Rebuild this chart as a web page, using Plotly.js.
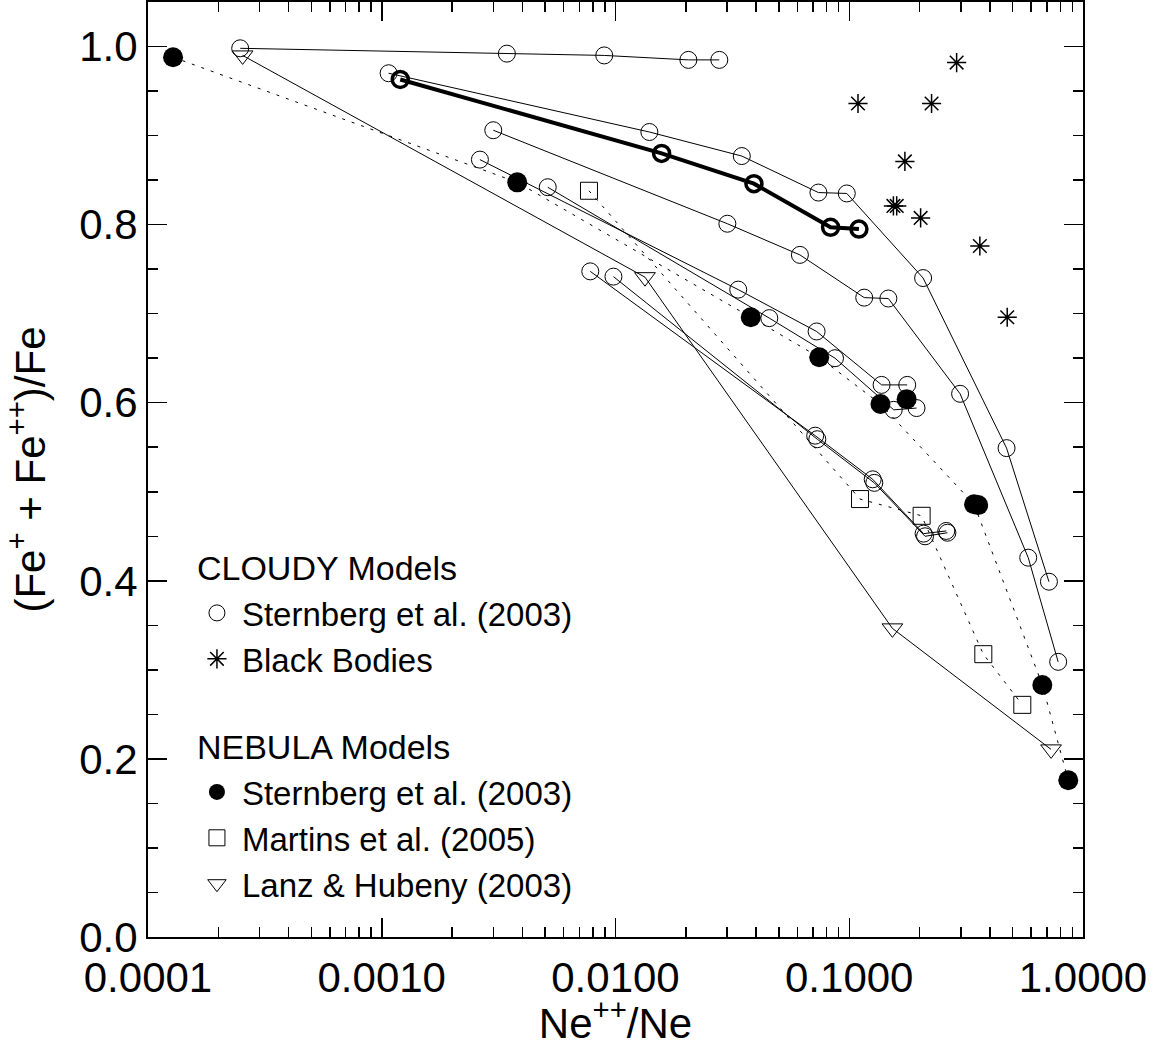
<!DOCTYPE html>
<html>
<head>
<meta charset="utf-8">
<script src="https://cdn.plot.ly/plotly-3.0.1.min.js"></script>
<style>html,body{margin:0;padding:0;background:#fff;}#chart{width:1159px;height:1047px;}</style>
</head>
<body>
<div id="chart"></div>
<script>
// ---------------- DATA ----------------
// CLOUDY models, Sternberg et al. (2003) atmospheres (open circles, solid lines)
const cloudyA_x = [2.48e-4, 3.43e-3, 8.95e-3, 0.0205, 0.0278];
const cloudyA_y = [0.998, 0.992, 0.990, 0.985, 0.985];
const cloudyB_x = [1.07e-3, 0.01396, 0.0347, 0.0738, 0.0976, 0.207, 0.471, 0.715];
const cloudyB_y = [0.970, 0.904, 0.877, 0.836, 0.835, 0.740, 0.549, 0.399];
const cloudyC_x = [3.0e-3, 0.0301, 0.0615, 0.1159, 0.147, 0.298, 0.583, 0.783];
const cloudyC_y = [0.906, 0.801, 0.766, 0.718, 0.717, 0.610, 0.426, 0.309];
const cloudyD_x = [2.63e-3, 0.0335, 0.0725, 0.1375, 0.177];
const cloudyD_y = [0.873, 0.727, 0.680, 0.620, 0.620];
const cloudyE_x = [5.13e-3, 0.0455, 0.0869, 0.155, 0.194];
const cloudyE_y = [0.842, 0.695, 0.650, 0.592, 0.594];
const cloudyF_x = [7.8e-3, 0.0715, 0.126, 0.208, 0.260];
const cloudyF_y = [0.7475, 0.563, 0.514, 0.453, 0.456];
const cloudyG_x = [9.8e-3, 0.073, 0.128, 0.211, 0.263];
const cloudyG_y = [0.7416, 0.559, 0.510, 0.450, 0.454];
// highlighted (thick) CLOUDY sequence
const cloudyThick_x = [1.20e-3, 0.01575, 0.0391, 0.0832, 0.110];
const cloudyThick_y = [0.963, 0.880, 0.846, 0.797, 0.795];
// CLOUDY black bodies (asterisks)
const blackBody_x = [0.288, 0.109, 0.225, 0.173, 0.1545, 0.1596, 0.202, 0.362, 0.474];
const blackBody_y = [0.982, 0.936, 0.936, 0.871, 0.821, 0.821, 0.8075, 0.776, 0.696];
// NEBULA models, Sternberg et al. (2003) (filled circles, dotted line)
const nebSternberg_x = [1.28e-4, 3.80e-3, 0.0379, 0.0744, 0.136, 0.342, 0.670, 0.865];
const nebSternberg_y = [0.988, 0.8475, 0.696, 0.651, 0.5985, 0.486, 0.283, 0.176];
const nebSternbergExtra_x = [0.176, 0.356];
const nebSternbergExtra_y = [0.604, 0.485];
// NEBULA models, Martins et al. (2005) (open squares, dotted line)
const nebMartins_x = [7.7e-3, 0.1112, 0.204, 0.3746, 0.550];
const nebMartins_y = [0.838, 0.4918, 0.473, 0.3176, 0.2607];
// NEBULA models, Lanz & Hubeny (2003) (open down-triangles, solid line)
const nebLanz_x = [2.54e-4, 0.01337, 0.153, 0.730];
const nebLanz_y = [0.990, 0.741, 0.3466, 0.2107];

// tick labels
const xTickVals = [1e-4, 1e-3, 1e-2, 1e-1, 1];
const xTickText = ['0.0001', '0.0010', '0.0100', '0.1000', '1.0000'];
const yTickVals = [0.0, 0.2, 0.4, 0.6, 0.8, 1.0];
const yTickText = ['0.0', '0.2', '0.4', '0.6', '0.8', '1.0'];

// ---------------- BUILD ----------------
const FONT = 'Liberation Sans, Arial, Helvetica, sans-serif';
const BLACK = '#000000';

function lineTrace(x, y, dash, width) {
  return {type: 'scatter', mode: 'lines', x: x, y: y,
          line: {color: BLACK, width: width, dash: dash},
          showlegend: false, hoverinfo: 'skip'};
}

const traces = [];
// solid CLOUDY lines
[[cloudyA_x, cloudyA_y], [cloudyB_x, cloudyB_y], [cloudyC_x, cloudyC_y],
 [cloudyD_x, cloudyD_y], [cloudyE_x, cloudyE_y], [cloudyF_x, cloudyF_y],
 [cloudyG_x, cloudyG_y]].forEach(p => traces.push(lineTrace(p[0], p[1], 'solid', 1)));
traces.push(lineTrace(cloudyThick_x, cloudyThick_y, 'solid', 4));
// NEBULA lines
traces.push(lineTrace(nebSternberg_x, nebSternberg_y, '3px,7px', 1));
traces.push(lineTrace(nebMartins_x, nebMartins_y, '3px,7px', 1));
traces.push(lineTrace(nebLanz_x, nebLanz_y, 'solid', 1));

// markers
traces.push({type: 'scatter', mode: 'markers', name: 'Sternberg et al. (2003)',
  legendgroup: 'cloudy', legendgrouptitle: {text: 'CLOUDY Models', font: {size: 34, family: FONT, color: BLACK}},
  x: [].concat(cloudyA_x, cloudyB_x, cloudyC_x, cloudyD_x, cloudyE_x, cloudyF_x, cloudyG_x),
  y: [].concat(cloudyA_y, cloudyB_y, cloudyC_y, cloudyD_y, cloudyE_y, cloudyF_y, cloudyG_y),
  marker: {symbol: 'circle-open', size: 17, color: BLACK, line: {width: 1, color: BLACK}}});
traces.push({type: 'scatter', mode: 'markers', showlegend: false, legendgroup: 'cloudy',
  x: cloudyThick_x, y: cloudyThick_y,
  marker: {symbol: 'circle-open', size: 16, color: BLACK, line: {width: 3.5, color: BLACK}}});
traces.push({type: 'scatter', mode: 'markers', name: 'Black Bodies', legendgroup: 'cloudy',
  x: blackBody_x, y: blackBody_y,
  marker: {symbol: 'asterisk-open', size: 16, color: BLACK, line: {width: 1.5, color: BLACK}}});
traces.push({type: 'scatter', mode: 'markers', name: 'Sternberg et al. (2003)',
  legendgroup: 'nebula', legendgrouptitle: {text: 'NEBULA Models', font: {size: 34, family: FONT, color: BLACK}},
  x: nebSternberg_x.concat(nebSternbergExtra_x), y: nebSternberg_y.concat(nebSternbergExtra_y),
  marker: {symbol: 'circle', size: 20, color: BLACK, line: {width: 0}}});
traces.push({type: 'scatter', mode: 'markers', name: 'Martins et al. (2005)', legendgroup: 'nebula',
  x: nebMartins_x, y: nebMartins_y,
  marker: {symbol: 'square-open', size: 17, color: BLACK, line: {width: 1, color: BLACK}}});
traces.push({type: 'scatter', mode: 'markers', name: 'Lanz & Hubeny (2003)', legendgroup: 'nebula',
  x: nebLanz_x, y: nebLanz_y,
  marker: {symbol: 'triangle-down-open', size: 18, color: BLACK, line: {width: 1, color: BLACK}}});

// minor tick positions on the log axis (2..9 within each decade)
const xMinor = [];
for (let d = -4; d < 0; d++) for (let k = 2; k <= 9; k++) xMinor.push(k * Math.pow(10, d));

const axisCommon = {
  showline: true, linewidth: 2, linecolor: BLACK, mirror: 'allticks',
  ticks: 'inside', ticklen: 19, tickwidth: 1.5, tickcolor: BLACK,
  showgrid: false, zeroline: false,
  tickfont: {size: 42, family: FONT, color: BLACK}
};

const layout = {
  width: 1159, height: 1047,
  margin: {l: 148, r: 76, t: 2, b: 110, pad: 0},
  paper_bgcolor: '#ffffff', plot_bgcolor: '#ffffff',
  font: {family: FONT, color: BLACK},
  showlegend: true,
  legend: {x: 0.047, y: 0.427, xanchor: 'left', yanchor: 'top',
           bgcolor: 'rgba(0,0,0,0)', borderwidth: 0,
           font: {size: 33, family: FONT, color: BLACK},
           traceorder: 'grouped', tracegroupgap: 40, itemwidth: 40},
  xaxis: Object.assign({}, axisCommon, {
    type: 'log', range: [-4, 0],
    tickmode: 'array', tickvals: xTickVals, ticktext: xTickText,
    ticklabelstandoff: 3,
    minor: {tickmode: 'array', tickvals: xMinor, ticks: 'inside', ticklen: 10, tickwidth: 1.5, tickcolor: BLACK, showgrid: false},
    title: {text: 'Ne<sup>++</sup>/Ne', font: {size: 42, family: FONT, color: BLACK}, standoff: 8}
  }),
  yaxis: Object.assign({}, axisCommon, {
    range: [0, 1.05],
    tickmode: 'array', tickvals: yTickVals, ticktext: yTickText,
    minor: {dtick: 0.05, tick0: 0, ticks: 'inside', ticklen: 10, tickwidth: 1.5, tickcolor: BLACK, showgrid: false},
    title: {text: '(Fe<sup>+</sup> + Fe<sup>++</sup>)/Fe', font: {size: 42, family: FONT, color: BLACK}, standoff: 25}
  })
};

Plotly.newPlot('chart', traces, layout, {displayModeBar: false, staticPlot: true});
</script>
</body>
</html>
